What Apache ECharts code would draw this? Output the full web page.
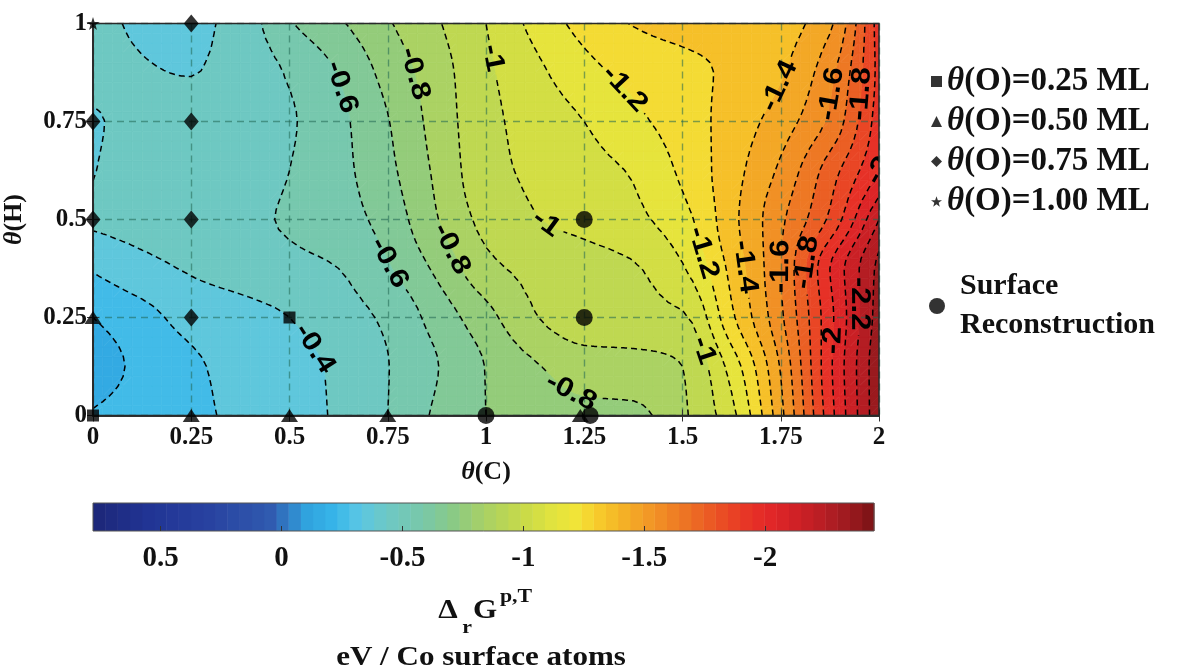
<!DOCTYPE html>
<html><head><meta charset="utf-8">
<script src="https://cdn.jsdelivr.net/npm/echarts@6/dist/echarts.min.js"></script>
<style>html,body{margin:0;padding:0;background:#fff;}#c{width:1181px;height:670px;}</style>
</head><body><div id="c"></div>
<script>
// ---------------- DATA ----------------
const xValues = [0, 0.125, 0.25, 0.375, 0.5, 0.625, 0.75, 0.875, 1, 1.125, 1.25, 1.375, 1.5, 1.625, 1.75, 1.875, 2];
const yValues = [0, 0.125, 0.25, 0.375, 0.5, 0.625, 0.75, 0.875, 1];
// reaction free energy (eV / Co surface atom) read along each theta(H) row
const gY0000 = [-0.21,-0.25,-0.28,-0.32,-0.363,-0.413,-0.50,-0.617,-0.70,-0.74,-0.77,-0.775,-0.883,-1.07,-1.47,-1.96,-2.38];
const gY0125 = [-0.15,-0.225,-0.285,-0.33,-0.37,-0.416,-0.497,-0.596,-0.703,-0.79,-0.85,-0.86,-0.90,-1.14,-1.51,-1.98,-2.38];
const gY0250 = [-0.20,-0.265,-0.335,-0.365,-0.40,-0.455,-0.52,-0.64,-0.765,-0.895,-0.95,-0.96,-0.985,-1.28,-1.58,-1.97,-2.35];
const gY0375 = [-0.31,-0.37,-0.41,-0.44,-0.47,-0.50,-0.59,-0.72,-0.87,-0.93,-0.96,-0.99,-1.09,-1.33,-1.60,-2.0,-2.33];
const gY0500 = [-0.41,-0.43,-0.455,-0.48,-0.51,-0.555,-0.64,-0.795,-0.93,-0.995,-1.03,-1.075,-1.165,-1.37,-1.58,-1.82,-2.2];
const gY0625 = [-0.398,-0.425,-0.44,-0.465,-0.50,-0.57,-0.675,-0.82,-0.965,-1.02,-1.065,-1.11,-1.22,-1.36,-1.52,-1.75,-2.0];
const gY0750 = [-0.395,-0.415,-0.425,-0.45,-0.49,-0.575,-0.695,-0.84,-0.97,-1.04,-1.10,-1.175,-1.25,-1.34,-1.45,-1.62,-1.95];
const gY0875 = [-0.42,-0.405,-0.398,-0.44,-0.51,-0.605,-0.735,-0.855,-0.98,-1.075,-1.165,-1.23,-1.27,-1.32,-1.39,-1.57,-1.93];
const gY1000 = [-0.42,-0.39,-0.38,-0.44,-0.59,-0.685,-0.79,-0.89,-1.0,-1.13,-1.235,-1.305,-1.335,-1.35,-1.36,-1.48,-1.95];

const contourLevels = [-2.4,-2.3,-2.2,-2.1,-2,-1.9,-1.8,-1.7,-1.6,-1.5,-1.4,-1.3,-1.2,-1.1,-1,-0.9,-0.8,-0.7,-0.6,-0.5,-0.4,-0.3,-0.2];

// contour labels (text, position)
const labelText = ['-0.4','-0.6','-0.6','-0.8','-0.8','-0.8','-1','-1','-1','-1.2','-1.2','-1.4','-1.4','-1.6','-1.6','-1.8','-1.8','-2','-2','-2.2'];
const labelX = [0.565,0.636,0.755,0.815,0.90,1.22,1.01,1.155,1.56,1.35,1.545,1.75,1.66,1.88,1.75,1.965,1.815,1.975,1.88,1.96];
const labelY = [0.17,0.84,0.39,0.87,0.42,0.07,0.91,0.49,0.17,0.83,0.415,0.84,0.38,0.82,0.38,0.82,0.39,0.66,0.19,0.285];

// computed configurations (markers)
const o025X = [0, 0.5],               o025Y = [0, 0.25];
const o050X = [0, 0.25, 0.5, 0.75, 1.24], o050Y = [0.25, 0, 0, 0, 0];
const o075X = [0, 0, 0.25, 0.25, 0.25, 0.25], o075Y = [0.5, 0.75, 0.25, 0.5, 0.75, 1];
const o100X = [0],                    o100Y = [1];
const reconX = [1, 1.25, 1.25, 1.265], reconY = [0, 0.25, 0.5, 0];

const seriesNames = ['θ(O)=0.25 ML','θ(O)=0.50 ML','θ(O)=0.75 ML','θ(O)=1.00 ML','Surface\nReconstruction'];

// colour bar
const cbMin = -2.45, cbMax = 0.78, cbSteps = 64;
const cbTicks = [0.5, 0, -0.5, -1, -1.5, -2];

// colormap stops (style)
const cmapV = [0.78,0.55,0.3,0.05,-0.1,-0.22,-0.32,-0.42,-0.52,-0.62,-0.72,-0.82,-0.92,-1.02,-1.12,-1.22,-1.3,-1.4,-1.5,-1.6,-1.7,-1.8,-1.9,-2.0,-2.1,-2.2,-2.3,-2.38,-2.45];
const cmapC = [[28,38,120],[33,52,148],[40,66,160],[48,90,175],[48,162,222],[55,182,233],[90,198,228],[108,200,200],[116,200,180],[125,200,160],[140,202,130],[165,208,105],[185,214,85],[205,220,70],[225,228,62],[242,228,56],[247,205,44],[244,180,38],[242,156,38],[240,132,36],[236,108,36],[234,82,36],[232,58,38],[228,40,40],[212,34,38],[192,30,36],[168,28,34],[145,24,28],[120,18,20]];

function cmap(v){
  if (v >= cmapV[0]) return 'rgb(' + cmapC[0].join(',') + ')';
  for (let i = 0; i < cmapV.length - 1; i++) {
    if (v <= cmapV[i] && v >= cmapV[i+1]) {
      const t = (cmapV[i] - v) / (cmapV[i] - cmapV[i+1]);
      const c = cmapC[i].map((a, k) => Math.round(a + t * (cmapC[i+1][k] - a)));
      return 'rgb(' + c.join(',') + ')';
    }
  }
  return 'rgb(' + cmapC[cmapC.length-1].join(',') + ')';
}

// ---------------- SURFACE (shape-preserving cubic through the read values) ----------------
const fieldRows = [gY0000, gY0125, gY0250, gY0375, gY0500, gY0625, gY0750, gY0875, gY1000];
function seg(arr, v){ let i = 0; while (i < arr.length - 2 && v > arr[i+1]) i++; return i; }
function pchip(xs, ys){
  const n = xs.length, h = [], del = [], d = new Array(n);
  for (let i = 0; i < n - 1; i++) { h[i] = xs[i+1] - xs[i]; del[i] = (ys[i+1] - ys[i]) / h[i]; }
  d[0] = del[0]; d[n-1] = del[n-2];
  for (let i = 1; i < n - 1; i++) {
    if (del[i-1] * del[i] <= 0) d[i] = 0;
    else { const w1 = 2*h[i] + h[i-1], w2 = h[i] + 2*h[i-1]; d[i] = (w1 + w2) / (w1/del[i-1] + w2/del[i]); }
  }
  return x => {
    const i = seg(xs, x), t = (x - xs[i]) / h[i], t2 = t*t, t3 = t2*t;
    return (2*t3 - 3*t2 + 1)*ys[i] + (t3 - 2*t2 + t)*h[i]*d[i] + (-2*t3 + 3*t2)*ys[i+1] + (t3 - t2)*h[i]*d[i+1];
  };
}
const SUB = 5;
const fx = [], fy = [];
for (let i = 0; i < xValues.length - 1; i++) for (let s = 0; s < SUB; s++) fx.push(xValues[i] + (xValues[i+1]-xValues[i]) * s / SUB);
fx.push(xValues[xValues.length-1]);
for (let j = 0; j < yValues.length - 1; j++) for (let s = 0; s < SUB; s++) fy.push(yValues[j] + (yValues[j+1]-yValues[j]) * s / SUB);
fy.push(yValues[yValues.length-1]);
const rowFine = fieldRows.map(r => { const f = pchip(xValues, r); return fx.map(x => f(x)); });
const fv = fy.map(() => []);
fx.forEach((x, I) => {
  const g = pchip(yValues, rowFine.map(r => r[I]));
  fy.forEach((y, J) => { fv[J][I] = g(y); });
});

function pixelGrid(api){
  const P = [];
  for (let J = 0; J < fy.length; J++) {
    const row = [];
    for (let I = 0; I < fx.length; I++) {
      const c = api.coord([fx[I], fy[J]]);
      row.push({x: c[0], y: c[1], v: fv[J][I], id: J * fx.length + I});
    }
    P.push(row);
  }
  return P;
}
function bandOf(v){ let k = 0; while (k < contourLevels.length && v >= contourLevels[k]) k++; return k; }
function bandColor(k){
  const n = contourLevels.length;
  const lo = k > 0 ? contourLevels[k-1] : contourLevels[0] - 0.1;
  const hi = k < n ? contourLevels[k] : contourLevels[n-1] + 0.1;
  return cmap((lo + hi) / 2);
}
function clip(poly, L, dir){
  const out = [];
  for (let i = 0; i < poly.length; i++) {
    const p = poly[i], q = poly[(i+1) % poly.length];
    const pin = dir > 0 ? p.v >= L : p.v <= L;
    const qin = dir > 0 ? q.v >= L : q.v <= L;
    if (pin) out.push(p);
    if (pin !== qin) {
      const t = (L - p.v) / (q.v - p.v);
      out.push({x: p.x + t*(q.x-p.x), y: p.y + t*(q.y-p.y), v: L});
    }
  }
  return out;
}
function renderFill(params, api){
  const P = pixelGrid(api);
  const children = [];
  const n = contourLevels.length;
  function push(poly, k){
    const col = bandColor(k);
    children.push({type: 'polygon', silent: true, shape: {points: poly.map(p => [p.x, p.y])}, style: {fill: col, stroke: col, lineWidth: 0.7}});
  }
  for (let J = 0; J < fy.length - 1; J++) for (let I = 0; I < fx.length - 1; I++) {
    const a = P[J][I], b = P[J][I+1], c = P[J+1][I+1], d = P[J+1][I];
    const ks = [a, b, c, d].map(p => bandOf(p.v));
    if (ks.every(k => k === ks[0])) { push([a, b, c, d], ks[0]); continue; }
    [[a, b, c], [a, c, d]].forEach(tri => {
      const kk = tri.map(p => bandOf(p.v));
      const kmin = Math.min.apply(null, kk), kmax = Math.max.apply(null, kk);
      for (let k = kmin; k <= kmax; k++) {
        let poly = tri;
        if (k > 0) poly = clip(poly, contourLevels[k-1], 1);
        if (k < n && poly.length) poly = clip(poly, contourLevels[k], -1);
        if (poly.length >= 3) push(poly, k);
      }
    });
  }
  return {type: 'group', children: children};
}

function buildContours(P){
  const res = [];
  contourLevels.forEach((L, li) => {
    const pts = {}, segs = [];
    function edgePt(p, q){
      if (p.id > q.id) { const t = p; p = q; q = t; }
      const key = p.id + '_' + q.id;
      if (!pts[key]) { const t = (L - p.v) / (q.v - p.v); pts[key] = [p.x + t*(q.x-p.x), p.y + t*(q.y-p.y)]; }
      return key;
    }
    for (let J = 0; J < fy.length - 1; J++) for (let I = 0; I < fx.length - 1; I++) {
      const a = P[J][I], b = P[J][I+1], c = P[J+1][I+1], d = P[J+1][I];
      [[a, b, c], [a, c, d]].forEach(tri => {
        const s = tri.map(p => p.v >= L);
        if (s[0] === s[1] && s[1] === s[2]) return;
        const keys = [];
        [[0,1],[1,2],[2,0]].forEach(e => { if (s[e[0]] !== s[e[1]]) keys.push(edgePt(tri[e[0]], tri[e[1]])); });
        if (keys.length === 2) segs.push(keys);
      });
    }
    const adj = {};
    segs.forEach((s, i) => { (adj[s[0]] = adj[s[0]] || []).push(i); (adj[s[1]] = adj[s[1]] || []).push(i); });
    const used = segs.map(() => false);
    const lines = [];
    function walk(si, key){
      const keys = [key]; let cur = si;
      while (cur !== undefined && !used[cur]) {
        used[cur] = true;
        const s = segs[cur];
        const nk = s[0] === key ? s[1] : s[0];
        keys.push(nk); key = nk;
        cur = (adj[key] || []).find(j => !used[j]);
      }
      return keys.map(k => pts[k]);
    }
    Object.keys(adj).forEach(k => { if (adj[k].length === 1 && !used[adj[k][0]]) lines.push(walk(adj[k][0], k)); });
    segs.forEach((s, i) => { if (!used[i]) lines.push(walk(i, s[0])); });
    res.push(lines.map(pl => densify(pl, 2)));
  });
  return res;
}
function densify(pl, step){
  const out = [pl[0]];
  for (let i = 1; i < pl.length; i++) {
    const p = pl[i-1], q = pl[i];
    const d = Math.hypot(q[0]-p[0], q[1]-p[1]);
    const n = Math.ceil(d / step);
    for (let k = 1; k <= n; k++) out.push([p[0] + (q[0]-p[0])*k/n, p[1] + (q[1]-p[1])*k/n]);
  }
  return out;
}
const LABEL_FONT = 27, LABEL_SCALE = 1.15;
const charW = {'-': 0.333, '.': 0.278};
function textWidth(t){ let w = 0; for (const ch of t) w += (charW[ch] || 0.556); return w * LABEL_FONT * LABEL_SCALE; }

function renderLines(params, api){
  const P = pixelGrid(api);
  const all = buildContours(P);
  const labels = [];
  labelText.forEach((t, i) => {
    const L = parseFloat(t);
    const li = contourLevels.findIndex(v => Math.abs(v - L) < 1e-9);
    const target = api.coord([labelX[i], labelY[i]]);
    let best = null, bd = Infinity;
    all[li].forEach((pl, pi) => pl.forEach((p, k) => {
      const d = Math.hypot(p[0]-target[0], p[1]-target[1]);
      if (d < bd) { bd = d; best = [pi, k]; }
    }));
    if (!best) return;
    const pl = all[li][best[0]];
    const k0 = Math.max(0, best[1] - 9), k1 = Math.min(pl.length - 1, best[1] + 9);
    const dx = pl[k1][0] - pl[k0][0], dy = pl[k1][1] - pl[k0][1];
    let ang = Math.atan2(-dy, dx);
    if (ang > Math.PI/2) ang -= Math.PI;
    if (ang <= -Math.PI/2) ang += Math.PI;
    labels.push({li: li, x: pl[best[1]][0], y: pl[best[1]][1], ang: ang, text: t, hw: textWidth(t)/2 + 4, hh: LABEL_FONT*0.45});
  });
  function inLabel(p, li){
    return labels.some(lb => {
      if (lb.li !== li) return false;
      const dx = p[0]-lb.x, dy = p[1]-lb.y;
      const u = dx*Math.cos(lb.ang) - dy*Math.sin(lb.ang);
      const v = dx*Math.sin(lb.ang) + dy*Math.cos(lb.ang);
      return Math.abs(u) < lb.hw && Math.abs(v) < lb.hh;
    });
  }
  const children = [];
  all.forEach((lines, li) => {
    lines.forEach(pl => {
      let cur = [];
      const flush = () => { if (cur.length > 1) children.push({type: 'polyline', silent: true, shape: {points: cur}, style: {stroke: '#000', lineWidth: 1.5, lineDash: [6, 4], fill: null}}); cur = []; };
      pl.forEach(p => { if (inLabel(p, li)) flush(); else cur.push(p); });
      flush();
    });
  });
  labels.forEach(lb => {
    children.push({type: 'text', silent: true, x: lb.x, y: lb.y, rotation: lb.ang, scaleX: LABEL_SCALE, scaleY: 1,
      style: {text: lb.text, x: 0, y: 0, align: 'center', verticalAlign: 'middle', textAlign: 'center', textVerticalAlign: 'middle',
        font: 'bold ' + LABEL_FONT + 'px "Liberation Sans", Arial, sans-serif', fill: '#000'}});
  });
  return {type: 'group', children: children};
}

function renderColorbar(params, api){
  const children = [];
  for (let s = 0; s < cbSteps; s++) {
    const v0 = cbMin + (cbMax - cbMin) * s / cbSteps;
    const v1 = cbMin + (cbMax - cbMin) * (s + 1) / cbSteps;
    const p0 = api.coord([v0, 0]), p1 = api.coord([v1, 1]);
    const col = cmap((v0 + v1) / 2);
    children.push({type: 'rect', silent: true,
      shape: {x: Math.min(p0[0], p1[0]), y: Math.min(p0[1], p1[1]), width: Math.abs(p1[0]-p0[0]) + 0.5, height: Math.abs(p1[1]-p0[1])},
      style: {fill: col}});
  }
  return {type: 'group', children: children};
}

// ---------------- CHART ----------------
const SERIF = '"Liberation Serif", "Times New Roman", serif';
const gridColor = 'rgba(30,100,80,0.55)';
const rich = {
  t: {fontStyle: 'italic', fontWeight: 'bold', fontSize: 33, lineHeight: 31, fontFamily: SERIF, color: '#111'},
  n: {fontWeight: 'bold', fontSize: 33, lineHeight: 31, fontFamily: SERIF, color: '#111'}
};
const richAxis = {
  t: {fontStyle: 'italic', fontWeight: 'bold', fontSize: 26, fontFamily: SERIF, color: '#111'},
  n: {fontWeight: 'bold', fontSize: 26, fontFamily: SERIF, color: '#111'}
};
function pts(xs, ys){ return xs.map((x, i) => [x, ys[i]]); }
const markerBase = {type: 'scatter', xAxisIndex: 0, yAxisIndex: 0, z: 6, clip: false, itemStyle: {color: '#000'}, emphasis: {disabled: true}};

const chart = echarts.init(document.getElementById('c'), null, {renderer: 'canvas'});
chart.setOption({
  animation: false,
  backgroundColor: '#fff',
  grid: [
    {left: 93, top: 23.5, width: 786, height: 392, containLabel: false, outerBoundsMode: 'none', show: true, backgroundColor: 'transparent', borderColor: '#2a2a2a', borderWidth: 1.5, z: 4},
    {left: 93, top: 503, width: 781, height: 28, containLabel: false, outerBoundsMode: 'none', show: true, backgroundColor: 'transparent', borderColor: '#555', borderWidth: 1, z: 4}
  ],
  xAxis: [
    {gridIndex: 0, type: 'value', min: 0, max: 2, interval: 0.25, position: 'bottom', z: 1,
      name: '{t|θ}{n|(C)}', nameLocation: 'middle', nameGap: 44, nameTextStyle: {rich: richAxis},
      axisLine: {show: true, lineStyle: {color: '#2a2a2a', width: 1.5}},
      axisTick: {show: true, inside: true, length: 6, lineStyle: {color: '#333'}},
      axisLabel: {margin: 10, fontSize: 25, fontWeight: 'bold', fontFamily: SERIF, color: '#111'},
      splitLine: {show: true, lineStyle: {type: [7, 5], color: gridColor, width: 1.4}}},
    {gridIndex: 0, type: 'value', min: 0, max: 2, interval: 0.25, position: 'top', z: 1,
      axisLine: {show: true, lineStyle: {color: '#2a2a2a', width: 1.5}},
      axisTick: {show: true, inside: true, length: 6, lineStyle: {color: '#333'}},
      axisLabel: {show: false}, splitLine: {show: false}},
    {gridIndex: 1, type: 'value', min: cbMin, max: cbMax, inverse: true, position: 'bottom', z: 5,
      axisLine: {show: false}, splitLine: {show: false},
      axisTick: {show: true, inside: true, length: 5, customValues: cbTicks, lineStyle: {color: '#333'}},
      axisLabel: {show: true, customValues: cbTicks, margin: 13, fontSize: 29, fontWeight: 'bold', fontFamily: SERIF, color: '#111', formatter: v => String(v)}}
  ],
  yAxis: [
    {gridIndex: 0, type: 'value', min: 0, max: 1, interval: 0.25, position: 'left', z: 1,
      name: '{t|θ}{n|(H)}', nameLocation: 'middle', nameGap: 66, nameRotate: 90, nameTextStyle: {rich: richAxis},
      axisLine: {show: true, lineStyle: {color: '#2a2a2a', width: 1.5}},
      axisTick: {show: true, inside: true, length: 6, lineStyle: {color: '#333'}},
      axisLabel: {margin: 6, fontSize: 25, fontWeight: 'bold', fontFamily: SERIF, color: '#111'},
      splitLine: {show: true, lineStyle: {type: [7, 5], color: gridColor, width: 1.4}}},
    {gridIndex: 0, type: 'value', min: 0, max: 1, interval: 0.25, position: 'right', z: 1,
      axisLine: {show: true, lineStyle: {color: '#2a2a2a', width: 1.5}},
      axisTick: {show: true, inside: true, length: 6, lineStyle: {color: '#333'}},
      axisLabel: {show: false}, splitLine: {show: false}},
    {gridIndex: 1, type: 'value', min: 0, max: 1, show: false}
  ],
  legend: [
    {orient: 'vertical', left: 926, top: 60, itemWidth: 11, itemHeight: 11, itemGap: 7, selectedMode: false,
      data: seriesNames.slice(0, 4),
      formatter: name => '{t|θ}{n|' + name.slice(1) + '}',
      textStyle: {lineHeight: 31, fontSize: 33, fontWeight: 'bold', fontFamily: SERIF, color: '#111', rich: rich}},
    {orient: 'vertical', left: 924, top: 262, itemWidth: 16, itemHeight: 16, selectedMode: false,
      data: [seriesNames[4]],
      textStyle: {lineHeight: 39, fontSize: 30, fontWeight: 'bold', fontFamily: SERIF, color: '#111', padding: [0, 0, 0, 10]}}
  ],
  graphic: [
    {type: 'text', x: 448, y: 611, scaleX: 1.15, silent: true, style: {text: 'Δ', font: 'bold 27px ' + SERIF, fill: '#111', align: 'center', verticalAlign: 'middle', textAlign: 'center', textVerticalAlign: 'middle'}},
    {type: 'text', x: 467, y: 628, scaleX: 1.15, silent: true, style: {text: 'r', font: 'bold 19px ' + SERIF, fill: '#111', align: 'center', verticalAlign: 'middle', textAlign: 'center', textVerticalAlign: 'middle'}},
    {type: 'text', x: 485, y: 611, scaleX: 1.15, silent: true, style: {text: 'G', font: 'bold 27px ' + SERIF, fill: '#111', align: 'center', verticalAlign: 'middle', textAlign: 'center', textVerticalAlign: 'middle'}},
    {type: 'text', x: 516, y: 597, scaleX: 1.15, silent: true, style: {text: 'p,T', font: 'bold 19px ' + SERIF, fill: '#111', align: 'center', verticalAlign: 'middle', textAlign: 'center', textVerticalAlign: 'middle'}},
    {type: 'text', x: 481, y: 658, scaleX: 1.15, silent: true, style: {text: 'eV / Co surface atoms', font: 'bold 27px ' + SERIF, fill: '#111', align: 'center', verticalAlign: 'middle', textAlign: 'center', textVerticalAlign: 'middle'}}
  ],
  series: [
    {type: 'custom', name: 'fill', xAxisIndex: 0, yAxisIndex: 0, z: 0, silent: true, clip: true, data: [[0, 0]], renderItem: renderFill},
    {type: 'custom', name: 'contours', xAxisIndex: 0, yAxisIndex: 0, z: 3, silent: true, clip: true, data: [[0, 0]], renderItem: renderLines},
    {type: 'custom', name: 'colorbar', xAxisIndex: 2, yAxisIndex: 2, z: 2, silent: true, data: [[0, 0]], renderItem: renderColorbar},
    Object.assign({}, markerBase, {name: seriesNames[0], symbol: 'rect', symbolSize: 12, data: pts(o025X, o025Y)}),
    Object.assign({}, markerBase, {name: seriesNames[1], symbol: 'triangle', symbolSize: [17, 13], data: pts(o050X, o050Y)}),
    Object.assign({}, markerBase, {name: seriesNames[2], symbol: 'diamond', symbolSize: [15, 18], data: pts(o075X, o075Y)}),
    Object.assign({}, markerBase, {name: seriesNames[3], symbol: 'path://M50,0 L61.8,35.1 L98.5,35.4 L69,57.5 L79.4,92.7 L50,71.5 L20.6,92.7 L31,57.5 L1.5,35.4 L38.2,35.1 Z', symbolSize: 13, data: pts(o100X, o100Y)}),
    Object.assign({}, markerBase, {name: seriesNames[4], symbol: 'circle', symbolSize: 17, data: pts(reconX, reconY)})
  ]
});
</script>
</body></html>
